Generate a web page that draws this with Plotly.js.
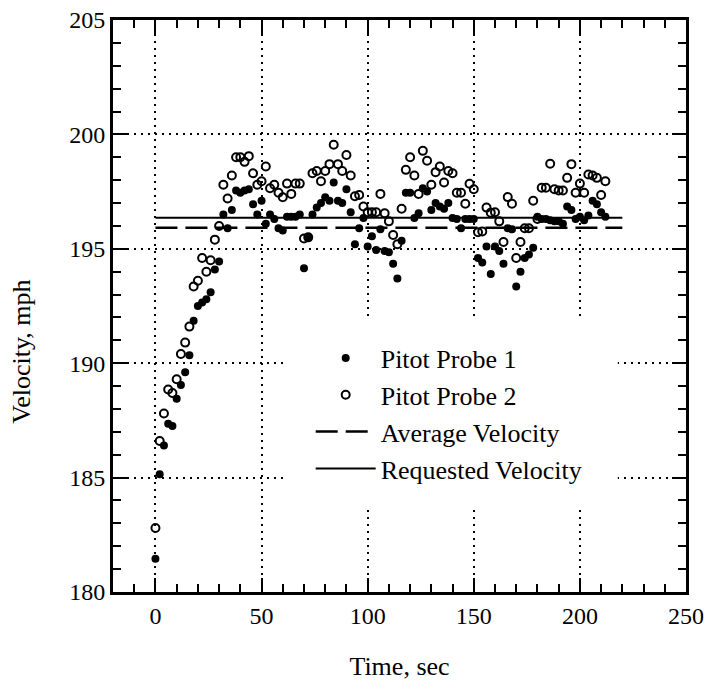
<!DOCTYPE html>
<html>
<head>
<meta charset="utf-8">
<script src="https://cdn.plot.ly/plotly-3.0.1.min.js"></script>
<style>
  html, body { margin: 0; padding: 0; background: #fff; }
  #chart { width: 708px; height: 687px; }
</style>
</head>
<body>
<div id="chart"></div>
<script>
// Sample times (s)
var timeSec = [0,2,4,6,8,10,12,14,16,18,20,22,24,26,28,30,32,34,36,38,40,42,44,46,48,50,
  52,54,56,58,60,62,64,66,68,70,72,74,76,78,80,82,84,86,88,90,92,94,96,98,100,
  102,104,106,108,110,112,114,116,118,120,122,124,126,128,130,132,134,136,138,140,
  142,144,146,148,150,152,154,156,158,160,162,164,166,168,170,172,174,176,178,180,
  182,184,186,188,190,192,194,196,198,200,202,204,206,208,210,212];

// Pitot Probe 1 (filled circles), mph
var probe1 = [181.45,185.15,186.4,187.35,187.25,188.45,189.05,189.6,190.35,191.85,192.5,
  192.65,192.8,193.1,194.1,194.45,196.5,195.9,196.7,197.55,197.45,197.55,197.6,196.95,196.5,197.1,
  196.1,196.5,196.3,195.9,195.8,196.4,196.4,196.4,196.5,194.15,195.5,196.5,196.8,197.0,197.25,
  197.1,197.9,197.1,197.0,197.6,196.6,195.2,195.9,196.35,195.1,
  195.55,194.95,195.85,194.9,194.85,194.35,193.7,195.35,197.45,197.45,196.35,196.55,197.65,197.5,196.7,
  197.0,196.85,196.75,197.0,196.35,
  196.3,195.9,196.3,196.3,196.3,194.6,194.4,195.1,193.9,195.1,194.9,194.35,195.9,195.85,193.35,
  194.0,194.6,194.75,195.05,196.4,
  196.3,196.3,196.25,196.2,196.2,196.1,196.85,196.7,196.3,196.4,196.25,196.45,197.1,196.95,196.6,196.4];

// Pitot Probe 2 (open circles), mph
var probe2 = [182.8,186.6,187.8,188.85,188.7,189.3,190.4,190.9,191.6,193.35,193.6,
  194.6,194.0,194.5,195.4,196.0,197.8,197.2,198.2,199.0,199.0,198.8,199.05,198.3,197.8,197.95,
  198.6,197.65,197.8,197.45,197.25,197.85,197.4,197.85,197.85,195.45,195.5,198.3,198.4,197.95,198.4,
  198.7,199.55,198.7,198.4,199.1,198.2,197.3,197.35,196.85,196.6,
  196.6,196.6,197.4,196.55,196.2,195.6,195.2,196.75,198.45,199.0,198.2,197.4,199.28,198.85,197.8,
  198.35,198.6,197.9,198.4,198.3,
  197.45,197.45,196.97,197.84,197.6,195.72,195.76,196.8,196.58,196.6,196.2,195.3,197.26,196.97,194.6,
  195.3,195.9,195.9,197.1,196.3,
  197.67,197.67,198.72,197.6,197.55,197.55,198.1,198.7,197.45,197.85,197.45,198.25,198.2,198.1,197.35,197.95];

// Reference lines
var lineTime = [0, 220];
var averageVelocity = [195.92, 195.92];
var requestedVelocity = [196.36, 196.36];

var xTicks = [0, 50, 100, 150, 200, 250];
var yTicks = [180, 185, 190, 195, 200, 205];

var FONT = 'Liberation Serif';

var traces = [
  {
    x: timeSec, y: probe1, type: 'scatter', mode: 'markers', name: 'Pitot Probe 1',
    marker: { symbol: 'circle', size: 8, color: '#000' }
  },
  {
    x: timeSec, y: probe2, type: 'scatter', mode: 'markers', name: 'Pitot Probe 2',
    marker: { symbol: 'circle-open', size: 8, color: '#000', line: { width: 2, color: '#000' } }
  },
  {
    x: lineTime, y: averageVelocity, type: 'scatter', mode: 'lines', name: 'Average Velocity',
    line: { color: '#000', width: 2.5, dash: '22px,8px' }
  },
  {
    x: lineTime, y: requestedVelocity, type: 'scatter', mode: 'lines', name: 'Requested Velocity',
    line: { color: '#000', width: 2 }
  }
];

var axisCommon = {
  showline: true, linecolor: '#000', linewidth: 3, mirror: 'ticks',
  ticks: 'inside', ticklen: 14, tickwidth: 2, tickcolor: '#000',
  showgrid: true, gridcolor: '#000', gridwidth: 2, griddash: '2px,5px',
  zeroline: false,
  tickfont: { family: FONT, size: 24, color: '#000' }
};

var layout = {
  width: 708, height: 687,
  margin: { l: 113, r: 22, t: 20, b: 95 },
  paper_bgcolor: '#fff', plot_bgcolor: '#fff',
  showlegend: true,
  font: { family: FONT, color: '#000' },
  xaxis: Object.assign({}, axisCommon, {
    range: [-20, 250], tickmode: 'array', tickvals: xTicks, ticktext: xTicks.map(String),
    minor: { dtick: 10, tick0: 0, ticks: 'inside', ticklen: 8, tickwidth: 2, tickcolor: '#000', showgrid: false },
    title: { text: 'Time, sec', font: { family: FONT, size: 26, color: '#000' }, standoff: 30 }
  }),
  yaxis: Object.assign({}, axisCommon, {
    range: [180, 205], tickmode: 'array', tickvals: yTicks, ticktext: yTicks.map(String),
    minor: { dtick: 1, tick0: 180, ticks: 'inside', ticklen: 8, tickwidth: 2, tickcolor: '#000', showgrid: false }
  }),
  legend: {
    x: 0.345, y: 0.45, xanchor: 'left', yanchor: 'top',
    bgcolor: 'rgba(0,0,0,0)', borderwidth: 0, itemwidth: 60,
    font: { family: FONT, size: 26, color: '#000' }
  },
  shapes: [
    { type: 'rect', xref: 'paper', yref: 'paper', x0: 0.300, x1: 0.881, y0: 0.147, y1: 0.481,
      fillcolor: '#fff', line: { width: 0 }, layer: 'above' }
  ],
  annotations: [
    { text: 'Velocity, mph', xref: 'paper', yref: 'paper', x: -0.159, y: 0.42,
      xanchor: 'center', yanchor: 'middle', textangle: -90, showarrow: false,
      font: { family: FONT, size: 26, color: '#000' } }
  ]
};

Plotly.newPlot('chart', traces, layout, { displayModeBar: false, staticPlot: true });
</script>
</body>
</html>
